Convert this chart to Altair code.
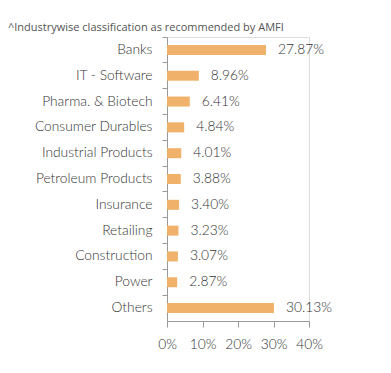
import altair as alt
import pandas as pd

categories = ["Banks", "IT - Software", "Pharma. & Biotech", "Consumer Durables",
              "Industrial Products", "Petroleum Products", "Insurance", "Retailing",
              "Construction", "Power", "Others"]
values = [27.87, 8.96, 6.41, 4.84, 4.01, 3.88, 3.40, 3.23, 3.07, 2.87, 30.13]
x_ticks = [0, 10, 20, 30, 40]
note = "^Industrywise classification as recommended by AMFI"

df = pd.DataFrame({"cat": categories, "v": values})

FONT = "Lato"
TEXT = "#333333"
AXIS = "#999999"

y_enc = alt.Y("cat:N", sort=categories, title=None,
              scale=alt.Scale(paddingInner=0, paddingOuter=0),
              axis=alt.Axis(bandPosition=0, tickSize=5, tickColor=AXIS, domainColor=AXIS,
                            labelFont=FONT, labelFontSize=13.8, labelFontWeight=300,
                            labelColor=TEXT, labelPadding=10))
x_enc = alt.X("v:Q", title=None,
              scale=alt.Scale(domain=[0, 40], nice=False),
              axis=alt.Axis(values=x_ticks, labelExpr="datum.value + '%'", grid=False,
                            labelOverlap=False, labelFlush=False,
                            tickSize=6, tickColor=AXIS, domainColor=AXIS,
                            labelFont=FONT, labelFontSize=13.8, labelFontWeight=300,
                            labelColor=TEXT, labelPadding=10))

base = alt.Chart(df).encode(y=y_enc, x=x_enc)
bars = base.mark_bar(size=10, color="#F0B26A")
labels = base.transform_calculate(lbl="format(datum.v, '.2f') + '%'").mark_text(
    align="left", baseline="middle", dx=12, font=FONT, fontSize=13.8, fontWeight=300,
    color=TEXT
).encode(text="lbl:N")

chart = (bars + labels).properties(
    width=142, height=284,
    autosize=alt.AutoSizeParams(type="none"),
    padding={"left": 159, "top": 29, "right": 74, "bottom": 44},
    title=alt.TitleParams(note, anchor="start", frame="group", dx=-159, dy=21, offset=16,
                          baseline="alphabetic", font="Open Sans", fontSize=11,
                          fontWeight="normal", color="#555555"),
).configure_view(stroke=None).configure(background="white")

chart.save("out.html", embed_options={"renderer": "svg", "actions": False})
